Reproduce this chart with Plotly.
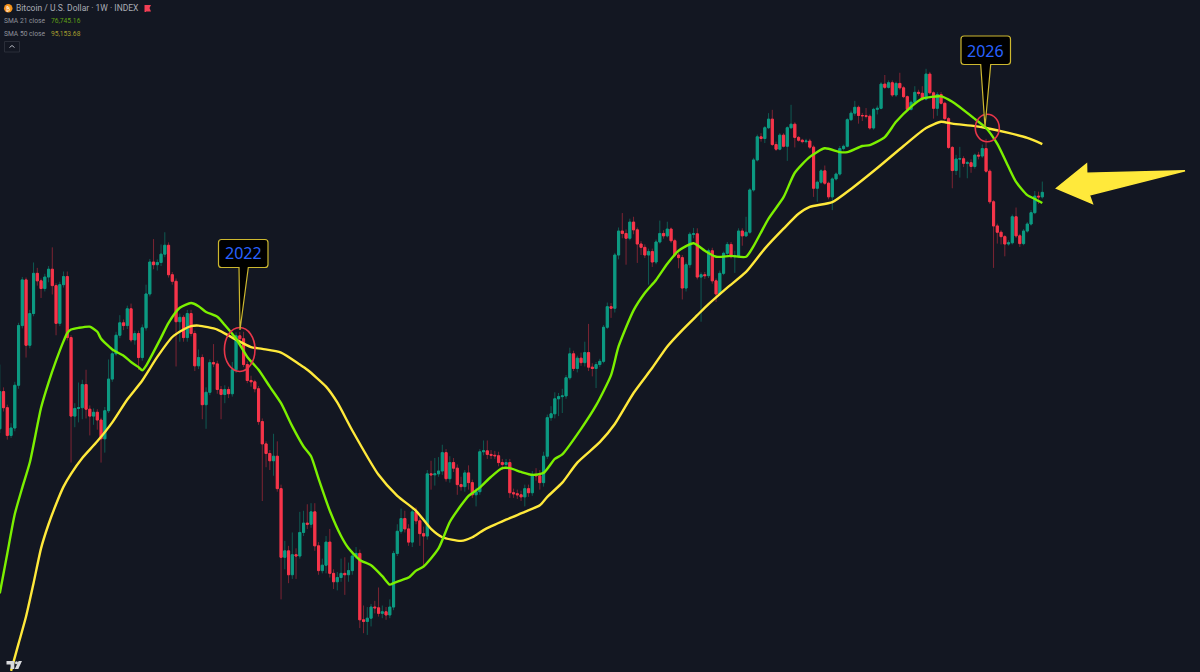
import plotly.graph_objects as go

# Weekly BTC/USD candles, all prices in thousands of US dollars.
week_close = [
    38.6,36.4,32.9,33.8,39.5,49.1,58.0,45.7,51.3,59.4,
    57.8,56.2,58.6,60.3,56.8,49.5,57.0,58.7,47.0,35.3,
    36.3,36.4,39.6,36.2,35.3,35.8,34.8,32.5,36.0,40.4,
    44.3,47.4,49.6,49.1,52.2,46.6,47.7,43.7,48.7,55.1,
    61.9,61.3,61.8,63.7,65.8,59.1,57.7,49.8,50.6,47.0,
    51.3,47.7,42.4,43.7,36.8,38.5,42.9,42.7,38.9,38.2,
    38.9,38.3,41.8,47.3,46.8,42.6,40.2,40.0,39.0,34.6,
    31.9,30.8,30.0,30.5,27.1,21.1,21.6,19.8,21.3,21.2,
    23.1,23.9,23.8,24.9,22.0,20.1,20.5,22.3,19.9,19.3,
    19.6,19.9,19.8,20.1,21.2,21.4,16.8,16.7,16.9,17.6,
    17.55,17.2,17.3,17.1,17.6,21.4,23.2,24.3,23.4,22.3,
    24.9,24.1,23.0,22.8,28.6,28.5,28.6,28.9,30.9,28.1,
    29.8,29.2,27.5,27.3,28.7,27.7,26.5,26.8,31.0,31.1,
    30.7,30.6,30.55,29.8,29.6,29.8,26.7,26.6,26.5,26.3,
    27.1,26.7,28.5,28.4,27.7,30.5,35.1,35.6,37.6,37.9,
    38.0,40.6,44.3,42.0,43.6,42.9,44.5,42.2,42.0,42.6,
    43.1,48.8,52.6,52.3,63.5,69.3,68.7,67.5,71.6,69.6,
    66.1,65.3,63.5,64.3,61.9,66.6,68.7,68.1,69.8,66.9,
    63.5,62.9,56.3,61.3,68.5,68.6,58.6,59.1,58.9,64.5,
    57.8,55.1,59.4,63.9,66.0,63.1,63.3,69.3,68.1,69.0,
    80.5,89.8,97.7,97.1,101.0,104.2,95.0,93.4,98.3,94.4,
    101.0,102.3,97.5,96.5,96.0,96.2,94.1,81.0,82.8,86.3,
    82.5,78.5,83.8,85.3,93.6,94.4,104.0,106.5,108.8,105.6,
    105.5,105.3,100.9,108.0,108.4,118.4,117.0,119.0,113.8,118.7,
    116.8,113.1,108.0,110.8,114.9,114.5,112.1,122.8,114.7,108.4,
    114.0,110.4,104.4,94.0,86.4,90.1,90.2,88.7,88.9,87.7,
    91.4,91.1,93.6,86.2,77.1,70.6,69.0,67.9,66.1,66.4,
    73.0,68.1,66.2,69.3,71.1,74.1,78.7,78.5,79.8,
]
week_high = [
    42.6,39.2,36.8,34.4,40.0,49.6,58.6,58.5,52.0,61.8,
    60.6,58.3,59.3,61.0,65.3,57.3,57.6,59.8,59.8,47.4,
    37.0,39.9,40.3,41.8,36.7,36.3,36.2,35.1,36.5,43.4,
    45.1,48.0,51.0,50.2,52.8,53.2,48.2,48.2,49.3,57.0,
    62.6,67.3,62.5,66.0,69.0,66.5,59.7,58.3,51.3,51.0,
    52.0,52.0,48.2,45.0,44.2,39.2,43.4,45.9,43.2,39.4,
    39.5,39.3,43.0,47.9,48.0,48.0,43.1,40.9,40.3,39.4,
    35.0,32.2,31.2,33.1,32.2,27.5,22.4,22.0,23.1,21.8,
    24.9,25.0,25.6,25.7,25.7,22.3,21.0,22.8,23.4,20.2,
    20.0,21.0,21.1,20.7,21.6,21.9,21.7,17.7,17.6,17.8,
    18.0,18.9,17.7,17.6,18.1,21.6,23.8,25.2,25.0,23.8,
    25.3,25.3,24.4,23.6,29.0,30.0,30.3,30.4,31.8,31.3,
    30.5,30.3,29.6,28.3,29.0,29.5,28.0,27.2,31.3,32.3,
    32.3,31.2,31.1,31.0,30.2,30.2,30.2,27.1,27.0,26.9,
    27.5,27.5,28.9,29.2,29.0,31.0,35.5,36.6,38.5,38.4,
    39.0,41.0,45.3,44.8,44.0,44.5,46.3,49.4,42.8,43.0,
    43.5,49.2,53.4,53.3,64.0,70.2,74.0,69.7,72.5,73.0,
    70.2,66.8,66.0,65.0,65.0,67.2,72.0,69.5,71.7,70.2,
    67.4,64.0,63.5,61.8,69.0,70.1,70.0,59.6,59.7,65.0,
    65.2,58.3,60.0,64.3,66.6,66.6,64.5,70.0,70.0,73.0,
    81.0,90.5,98.5,99.0,101.6,106.5,107.8,96.0,99.0,99.0,
    101.5,109.8,103.0,98.0,97.0,97.0,97.0,94.7,83.3,86.8,
    88.0,83.0,84.3,85.8,94.5,95.0,104.6,107.5,111.4,109.5,
    106.6,108.5,106.0,108.6,109.5,119.2,122.4,120.0,120.0,119.5,
    123.4,117.5,113.6,111.5,117.5,116.0,117.5,125.2,123.8,115.3,
    115.0,115.0,111.0,105.0,94.5,91.5,94.2,91.0,89.5,90.0,
    91.9,92.5,95.0,97.0,86.8,77.6,71.2,69.5,68.3,67.0,
    73.6,75.5,68.6,69.8,71.6,74.8,80.2,80.0,83.0,
]
week_low = [
    33.2,35.9,32.4,32.6,33.4,39.0,48.6,43.7,45.2,50.8,
    56.8,54.3,55.6,57.5,55.0,47.4,49.0,56.4,46.5,29.8,
    33.9,34.5,34.9,35.0,32.9,34.2,33.6,29.8,30.9,35.7,
    40.0,44.0,46.9,48.3,48.5,46.2,45.8,41.8,43.2,48.2,
    54.6,60.3,60.0,61.0,63.0,58.5,57.0,42.3,46.3,46.3,
    46.3,47.2,41.6,41.9,34.9,33.7,38.1,42.2,38.3,34.9,
    37.0,37.7,37.9,41.3,46.3,42.2,39.8,39.3,38.5,34.2,
    25.9,29.3,29.0,28.4,26.8,18.1,20.2,19.2,19.5,19.5,
    21.0,22.8,23.4,23.5,21.6,19.8,19.9,19.9,19.6,18.8,
    18.7,19.3,18.4,19.3,19.8,21.0,16.3,16.0,15.9,16.4,
    17.2,17.0,16.9,16.8,16.9,17.4,21.2,23.0,23.1,22.0,
    21.9,23.8,22.0,20.4,22.5,27.0,27.4,28.3,28.5,27.8,
    27.7,28.8,26.5,26.9,26.8,27.0,26.2,25.4,26.5,30.6,
    30.2,30.2,30.2,29.4,29.0,29.2,26.2,26.2,26.1,25.9,
    25.4,26.3,26.4,27.9,27.0,27.3,30.2,34.7,35.0,35.3,
    35.7,37.6,40.3,41.6,41.4,42.4,42.3,41.6,40.8,39.1,
    42.2,42.8,48.5,50.5,51.5,62.5,67.5,61.3,67.0,68.5,
    61.7,63.5,62.8,57.0,60.8,61.4,66.2,67.4,67.7,66.4,
    63.0,60.5,54.0,55.6,60.6,67.5,58.1,49.8,58.2,58.4,
    57.2,53.5,54.8,59.0,63.4,62.7,59.5,62.8,65.7,67.8,
    68.6,80.0,89.3,96.0,95.5,100.5,94.5,92.8,93.0,94.0,
    89.5,100.5,94.0,96.0,95.4,95.4,93.5,78.5,77.1,82.3,
    82.0,77.8,74.8,83.3,84.8,93.0,94.0,103.5,105.5,102.5,
    103.5,104.5,100.3,100.3,106.0,108.0,116.3,116.5,113.0,113.0,
    116.0,112.5,107.2,107.5,110.4,113.5,111.5,111.6,114.0,104.4,
    105.5,109.9,103.9,93.5,81.0,85.0,84.2,87.5,84.0,85.7,
    87.0,90.0,90.5,85.7,76.5,60.6,66.2,66.0,63.2,65.7,
    66.0,67.6,65.4,65.8,68.9,70.7,73.7,76.5,78.0,
]
first_open = 33.7

# Moving averages: bar number and level in thousands of dollars.
sma21_bar = [0,2,4,6,8,11,13,15,17,18,19,21,24,26,27,30,33,35,37,38,39,43,45,48,51,53,55,58,60,63,
             66,69,72,75,78,81,83,85,88,91,93,96,99,102,104,105,107,109,111,113,117,120,123,125,128,131,134,136,139,142,
             145,148,150,155,159,163,165,169,172,175,178,181,185,188,191,195,199,201,205,209,212,216,220,224,226,230,232,236,239,243,
             246,251,254,260,263,266,269,271,274,276,278]
sma21_level = [18.5,21.4,24.7,27.2,29.8,36.4,39.9,43.2,46.4,47.8,48.4,48.7,48.9,48.0,46.8,45.0,44.0,43.0,42.2,41.7,42.4,47.0,49.6,52.4,53.3,52.7,51.6,50.7,49.2,46.8,
               43.8,41.8,39.3,37.0,34.0,31.6,30.5,28.1,25.0,22.8,21.8,20.9,20.5,19.7,19.1,19.2,19.4,19.6,20.1,20.4,21.8,24.0,25.5,26.4,27.2,28.3,29.2,29.2,28.8,28.5,
               28.7,30.2,30.7,33.7,36.7,41.0,45.5,51.9,55.3,58.0,61.5,64.5,66.3,64.5,63.1,63.3,63.1,65.6,72.5,78.4,85.7,90.8,93.7,92.4,92.4,94.5,94.8,97.6,103.2,109.0,
               112.3,113.2,111.0,104.3,100.9,95.2,87.5,82.9,79.0,77.9,76.74516]
sma50_bar = [3,5,7,9,11,13,15,17,19,22,26,30,34,38,42,46,49,51,53,58,62,67,70,75,80,82,87,90,94,101,
             106,111,115,118,123,126,129,135,140,144,146,150,154,160,164,169,174,178,182,186,189,194,199,204,209,213,216,222,227,234,
             241,247,251,254,260,263,269,274,278]
sma50_level = [13.95,15.4,17.0,19.2,21.8,23.8,25.6,27.3,28.6,30.3,32.2,34.5,37.5,40.2,43.8,47.1,48.4,49.0,49.1,48.4,47.0,45.4,45.1,44.5,42.6,41.8,39.3,37.1,33.5,28.5,
               26.4,25.0,23.4,22.7,22.4,22.7,23.3,24.2,24.9,25.5,26.3,27.7,29.8,32.1,34.3,38.4,42.1,45.5,48.3,51.0,53.1,56.4,59.7,65.0,69.9,73.8,75.7,77.0,80.8,87.2,
               94.5,100.9,103.2,102.5,101.6,100.9,99.1,97.3,95.15368]

BG = "#131722"
UP, DOWN = "#0c9a82", "#f7354a"
UP_WICK, DOWN_WICK = "#0f5a52", "#7c2433"
GREEN, YELLOW = "#7cf000", "#ffe93b"
CALLOUT_EDGE = "#cdb82f"
RING = "#e8364a"
W, H = 1200, 672


def usd(values):
    return [v * 1000 for v in values]


def fx(x):
    return x / W


def fy(y):
    return 1 - y / H


def path(points, close=True):
    d = "M" + " L".join(f"{fx(x):.5f},{fy(y):.5f}" for x, y in points)
    return d + (" Z" if close else "")


def callout_path(left, right, top, bottom, base_l, base_r, tip_x, tip_y, r=3):
    # Rounded label box with a long pointer dropping from its lower edge.
    return (
        f"M{fx(left + r):.5f},{fy(top):.5f} L{fx(right - r):.5f},{fy(top):.5f} "
        f"Q{fx(right):.5f},{fy(top):.5f} {fx(right):.5f},{fy(top + r):.5f} "
        f"L{fx(right):.5f},{fy(bottom - r):.5f} Q{fx(right):.5f},{fy(bottom):.5f} {fx(right - r):.5f},{fy(bottom):.5f} "
        f"L{fx(base_r):.5f},{fy(bottom):.5f} L{fx(tip_x):.5f},{fy(tip_y):.5f} L{fx(base_l):.5f},{fy(bottom):.5f} "
        f"L{fx(left + r):.5f},{fy(bottom):.5f} Q{fx(left):.5f},{fy(bottom):.5f} {fx(left):.5f},{fy(bottom - r):.5f} "
        f"L{fx(left):.5f},{fy(top + r):.5f} Q{fx(left):.5f},{fy(top):.5f} {fx(left + r):.5f},{fy(top):.5f} Z"
    )


def ring(cx, cy, rx, ry):
    return dict(type="circle", xref="paper", yref="paper", x0=fx(cx - rx), x1=fx(cx + rx),
                y0=fy(cy + ry), y1=fy(cy - ry), line=dict(color=RING, width=1.6), fillcolor="rgba(0,0,0,0)")


def label(x, y, text, size, color, anchor="left", font="Roboto"):
    return dict(xref="paper", yref="paper", x=fx(x), y=fy(y), text=text, showarrow=False,
                xanchor=anchor, yanchor="middle", borderpad=0,
                font=dict(family=font, size=size, color=color))


bars = list(range(len(week_close)))
week_open = [first_open] + week_close[:-1]
body_high = [max(o, c) for o, c in zip(week_open, week_close)]
body_low = [min(o, c) for o, c in zip(week_open, week_close)]

fig = go.Figure()
# Thin dim wicks underneath, solid bodies on top.
fig.add_trace(go.Candlestick(
    x=bars, open=usd(week_open), high=usd(week_high), low=usd(week_low), close=usd(week_close),
    increasing=dict(line=dict(color=UP_WICK, width=1), fillcolor=UP_WICK),
    decreasing=dict(line=dict(color=DOWN_WICK, width=1), fillcolor=DOWN_WICK),
    hoverinfo="skip", showlegend=False,
))
fig.add_trace(go.Candlestick(
    x=bars, open=usd(week_open), high=usd(body_high), low=usd(body_low), close=usd(week_close),
    increasing=dict(line=dict(color=UP, width=1), fillcolor=UP),
    decreasing=dict(line=dict(color=DOWN, width=1), fillcolor=DOWN),
    hoverinfo="skip", showlegend=False,
))
fig.add_trace(go.Scatter(x=sma50_bar, y=usd(sma50_level), mode="lines", hoverinfo="skip", showlegend=False,
                         line=dict(color=YELLOW, width=2.4, shape="spline", smoothing=0.6)))
fig.add_trace(go.Scatter(x=sma21_bar, y=usd(sma21_level), mode="lines", hoverinfo="skip", showlegend=False,
                         line=dict(color=GREEN, width=2.4, shape="spline", smoothing=0.6)))

shapes = [
    ring(239.7, 349.5, 15.3, 22),
    ring(987.3, 128, 12, 13.7),
    dict(type="path", xref="paper", yref="paper", path=callout_path(218.5, 268, 239.5, 267.5, 239, 248.3, 240, 330),
         fillcolor="#000000", line=dict(color=CALLOUT_EDGE, width=1.2)),
    dict(type="path", xref="paper", yref="paper", path=callout_path(961, 1010.5, 36, 64.5, 980.7, 990.7, 985, 127),
         fillcolor="#000000", line=dict(color=CALLOUT_EDGE, width=1.2)),
    # Big arrow pointing at the latest bars.
    dict(type="path", xref="paper", yref="paper",
         path=path([(1056.5, 188.3), (1086.5, 164), (1086.7, 173.3), (1185, 170.8), (1089.3, 195), (1092.3, 203.5)]),
         fillcolor=YELLOW, line=dict(color=YELLOW, width=1.5)),
    # Header: coin badge, flag and collapse button.
    dict(type="circle", xref="paper", yref="paper", x0=fx(4), x1=fx(12.5), y0=fy(12.5), y1=fy(4),
         fillcolor="#f7931a", line=dict(width=0)),
    dict(type="path", xref="paper", yref="paper",
         path=path([(144.5, 5), (151, 5), (149.5, 8), (151, 11.5), (146, 11.5), (146, 12), (144.5, 12)]),
         fillcolor="#f23f55", line=dict(width=0)),
    dict(type="rect", xref="paper", yref="paper", x0=fx(4.5), x1=fx(19.5), y0=fy(52), y1=fy(41.5),
         line=dict(color="#2a2e39", width=1), fillcolor="rgba(0,0,0,0)"),
    dict(type="path", xref="paper", yref="paper", path=path([(9.5, 47.5), (12, 45.5), (14.5, 47.5)], close=False),
         line=dict(color="#b2b5be", width=1)),
    # Chart-maker mark in the corner.
    dict(type="path", xref="paper", yref="paper",
         path=path([(6.5, 661), (14.3, 661), (14.3, 669), (10.6, 669), (10.6, 664.4), (6.5, 664.4)]),
         fillcolor="#d8d9dc", line=dict(width=0)),
    dict(type="circle", xref="paper", yref="paper", x0=fx(15), x1=fx(18), y0=fy(664.2), y1=fy(661.2),
         fillcolor="#d8d9dc", line=dict(width=0)),
    dict(type="path", xref="paper", yref="paper", path=path([(18.6, 661), (22, 661), (18.3, 669), (14.8, 669)]),
         fillcolor="#d8d9dc", line=dict(width=0)),
]

annotations = [
    label(243.3, 253.5, "2022", 16, "#2962ff", "center", "Noto Sans"),
    label(985.7, 50.5, "2026", 16, "#2962ff", "center", "Noto Sans"),
    label(8.2, 8.3, "₿", 6, "#ffffff", "center"),
    label(15, 8.3, "Bitcoin / U.S. Dollar · 1W · INDEX", 8.5, "#a9acb5"),
    label(3, 20.8, "SMA 21 close", 6.7, "#8f929b"),
    label(49.5, 20.8, f"{sma21_level[-1] * 1000:,.2f}", 6.7, "#5f9f16"),
    label(3, 33.6, "SMA 50 close", 6.7, "#8f929b"),
    label(49.5, 33.6, f"{sma50_level[-1] * 1000:,.2f}", 6.7, "#a59c2f"),
]

fig.update_layout(
    width=W, height=H, margin=dict(l=0, r=0, t=0, b=0), autosize=False,
    paper_bgcolor=BG, plot_bgcolor=BG, showlegend=False, boxgap=0.2,
    shapes=shapes, annotations=annotations,
    xaxis=dict(range=[0.053, 320.05], visible=False, rangeslider=dict(visible=False), fixedrange=True),
    yaxis=dict(type="log", range=[4.1427, 5.2065], visible=False, fixedrange=True),
)

fig.write_html("out.html", config={"displayModeBar": False})
